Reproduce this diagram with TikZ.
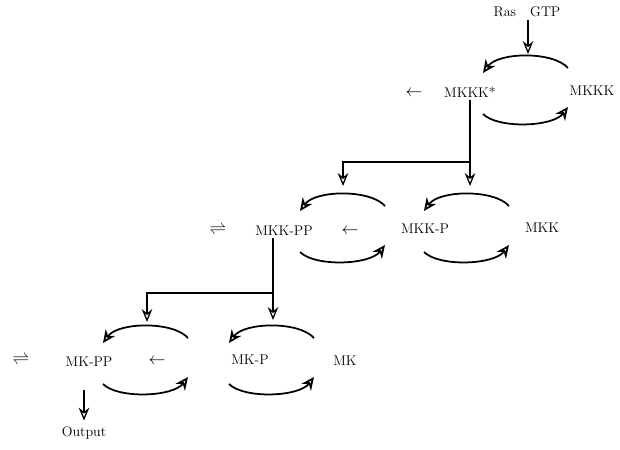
\documentclass[tikz,border=0pt]{standalone}
\usepackage{tikz}
\usetikzlibrary{arrows.meta, calc}

\tikzset{
    sp/.style={font=\large, inner sep=2pt},
    sym/.style={font=\Large, inner sep=1pt},
    cyc/.style={line width=1.5pt, -{Stealth[open, length=11pt, width=10pt]}},
    conn/.style={line width=1.1pt},
    arr/.style={line width=1.1pt, -{Stealth[open, length=11pt, width=9pt]}}
}

\begin{document}
\begin{tikzpicture}[x=0.03cm, y=-0.03cm]
    \useasboundingbox (0,0) rectangle (620,449);

    % Input
    \node[sp] (inp) at (527,12) {Ras\quad GTP};
    \coordinate (t1) at (528,54);
    \draw[arr] (inp.south -| t1) -- (t1);

    % Cycle centres
    \coordinate (c1) at (526,92);
    \coordinate (c2) at (343,230);
    \coordinate (c3) at (467,230);
    \coordinate (c4) at (146,362);
    \coordinate (c5) at (272,362);

    % Species
    \node[sym] (s1) at (414,93) {$\leftarrow$};
    \node[sp] (l1) at (470,92) {MKKK*};
    \node[sp] (r1) at (592,91) {MKKK};

    \node[sym] (e2) at (218,230) {$\rightleftharpoons$};
    \node[sp] (l2) at (284,231) {MKK-PP};
    \node[sym] (s2) at (350,231) {$\leftarrow$};
    \node[sp] (m2) at (425,229) {MKK-P};
    \node[sp] (r2) at (542,228) {MKK};

    \node[sym] (e3) at (21,360) {$\rightleftharpoons$};
    \node[sp] (l3) at (89,362) {MK-PP};
    \node[sym] (s3) at (157,361) {$\leftarrow$};
    \node[sp] (m3) at (250,360) {MK-P};
    \node[sp] (r3) at (345,361) {MK};

    % Cycles
    \foreach \c in {c1, c2, c3, c4, c5} {
        \draw[cyc] ($(\c)+(42,-24)$) .. controls +(-15,-17) and +(15,-21) .. ($(\c)+(-43,-19)$);
        \draw[cyc] ($(\c)+(-43,22)$) .. controls +(15,15) and +(-15,20) .. ($(\c)+(42,15)$);
    }

    % First branch
    \coordinate (j1) at (470,162);
    \coordinate (a1) at (343,186);
    \coordinate (a2) at (470,186);
    \draw[conn] (l1.south) -- (j1);
    \draw[arr] (j1) -| (a1);
    \draw[arr] (j1) -- (a2);

    % Second branch
    \coordinate (j2) at (273,293);
    \coordinate (a3) at (147,322);
    \coordinate (a4) at (273,320);
    \draw[conn] (l2.south -| j2) -- (j2);
    \draw[arr] (j2) -| (a3);
    \draw[arr] (j2) -- (a4);

    % Output
    \node[sp] (outp) at (84,433) {Output};
    \draw[arr, shorten <=18pt, shorten >=3pt] (l3.south -| outp.north) -- (outp.north);
\end{tikzpicture}
\end{document}
